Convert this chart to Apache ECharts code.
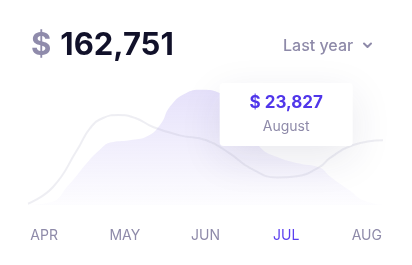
<!DOCTYPE html>
<html>
<head>
<meta charset="utf-8">
<script src="https://cdn.jsdelivr.net/npm/echarts@6/dist/echarts.min.js"></script>
<style>
html,body{margin:0;padding:0;background:#fff;}
#c{width:412px;height:265px;}
</style>
</head>
<body>
<div id="c"></div>
<script>
var months = ['APR', 'MAY', 'JUN', 'JUL', 'AUG'];
var monthTicks = [0, 1, 2, 3, 4];
var highlightMonth = 'JUL';
var totalLabel = '162,751';
var tipValue = '$ 23,827';
var tipMonth = 'August';
var rangeLabel = 'Last year';

var areaX = [-0.2, 0.07, 0.32, 0.53, 0.69, 0.82, 1.06, 1.27, 1.44, 1.56, 1.75, 1.95, 2.15, 2.4, 2.68, 2.89, 3.13, 3.42, 3.54, 3.79, 3.95, 4.2];
var areaY = [0, 2, 18, 35, 46, 52, 54, 57, 67, 82, 93, 96, 94, 75, 48, 40, 35, 31, 24, 12, 4, 0];

var lineX = [-0.2, 0.11, 0.41, 0.57, 0.73, 0.92, 1.13, 1.35, 1.68, 2.01, 2.30, 2.55, 2.89, 3.13, 3.42, 3.54, 3.83, 4.2];
var lineY = [1, 15, 46, 64, 72.5, 75, 72.5, 65, 58, 54, 43, 31, 23, 24, 32, 39, 50, 54];

function zip(a, b) { return a.map(function (v, i) { return [v, b[i]]; }); }

var chart = echarts.init(document.getElementById('c'));
var option = {
  animation: false,
  grid: { left: 28, right: 29, top: 85, bottom: 60 },
  xAxis: {
    type: 'value', min: -0.2, max: 4.2,
    axisLine: { show: false }, axisTick: { show: false }, splitLine: { show: false },
    axisLabel: {
      customValues: monthTicks,
      margin: 24,
      fontFamily: 'Inter', fontSize: 14,
      formatter: function (v) { return months[Math.round(v)]; },
      color: function (v) {
        var m = months[Math.round(v)];
        return m === highlightMonth ? '#5b3ff0' : '#8e8aa9';
      }
    }
  },
  yAxis: { type: 'value', min: 0, max: 100, show: false },
  series: [
    {
      type: 'line', data: zip(areaX, areaY), smooth: 0.5, symbol: 'none',
      lineStyle: { width: 0 },
      areaStyle: {
        color: new echarts.graphic.LinearGradient(0, 0, 0, 1, [
          { offset: 0, color: 'rgba(122, 98, 232, 0.27)' },
          { offset: 1, color: 'rgba(122, 98, 232, 0.02)' }
        ])
      },
      z: 2
    },
    {
      type: 'line', data: zip(lineX, lineY), smooth: 0.5, symbol: 'none',
      lineStyle: { width: 2, color: 'rgba(190, 188, 208, 0.26)' },
      z: 3
    }
  ]
};
chart.setOption(option);

var cx = chart.convertToPixel({ xAxisIndex: 0 }, monthTicks[months.indexOf(highlightMonth)]);
var boxW = 133, boxH = 63;
chart.setOption({
  graphic: [
    {
      type: 'text', x: 31, y: 46, z: 10,
      style: {
        text: '{a|$}{b|' + totalLabel + '}',
        verticalAlign: 'middle',
        rich: {
          a: { fontFamily: 'Inter', fontWeight: 700, fontSize: 31, fill: '#8f8bab', padding: [0, 9, 0, 0] },
          b: { fontFamily: 'Inter', fontWeight: 700, fontSize: 31, fill: '#11112a' }
        }
      }
    },
    {
      type: 'text', x: 283, y: 46, z: 10,
      style: { text: rangeLabel, fontFamily: 'Inter', fontSize: 16, fontWeight: 500, fill: '#8e8aa9', verticalAlign: 'middle' }
    },
    {
      type: 'polyline', z: 10,
      shape: { points: [[364, 43.5], [367.5, 47], [371, 43.5]] },
      style: { stroke: '#8e8aa9', lineWidth: 2, fill: null, lineCap: 'round', lineJoin: 'round' }
    },
    {
      type: 'rect', z: 20,
      shape: { x: cx - boxW / 2, y: 83, width: boxW, height: boxH, r: 4 },
      style: { fill: '#fff', shadowBlur: 40, shadowColor: 'rgba(40, 40, 90, 0.10)', shadowOffsetY: 12 }
    },
    {
      type: 'text', z: 21, x: cx, y: 103,
      style: { text: tipValue, fontFamily: 'Inter', fontWeight: 700, fontSize: 17, fill: '#5036ea', align: 'center', verticalAlign: 'middle' }
    },
    {
      type: 'text', z: 21, x: cx, y: 127,
      style: { text: tipMonth, fontFamily: 'Inter', fontSize: 14, fill: '#8e8aa9', align: 'center', verticalAlign: 'middle' }
    }
  ]
});
</script>
</body>
</html>
